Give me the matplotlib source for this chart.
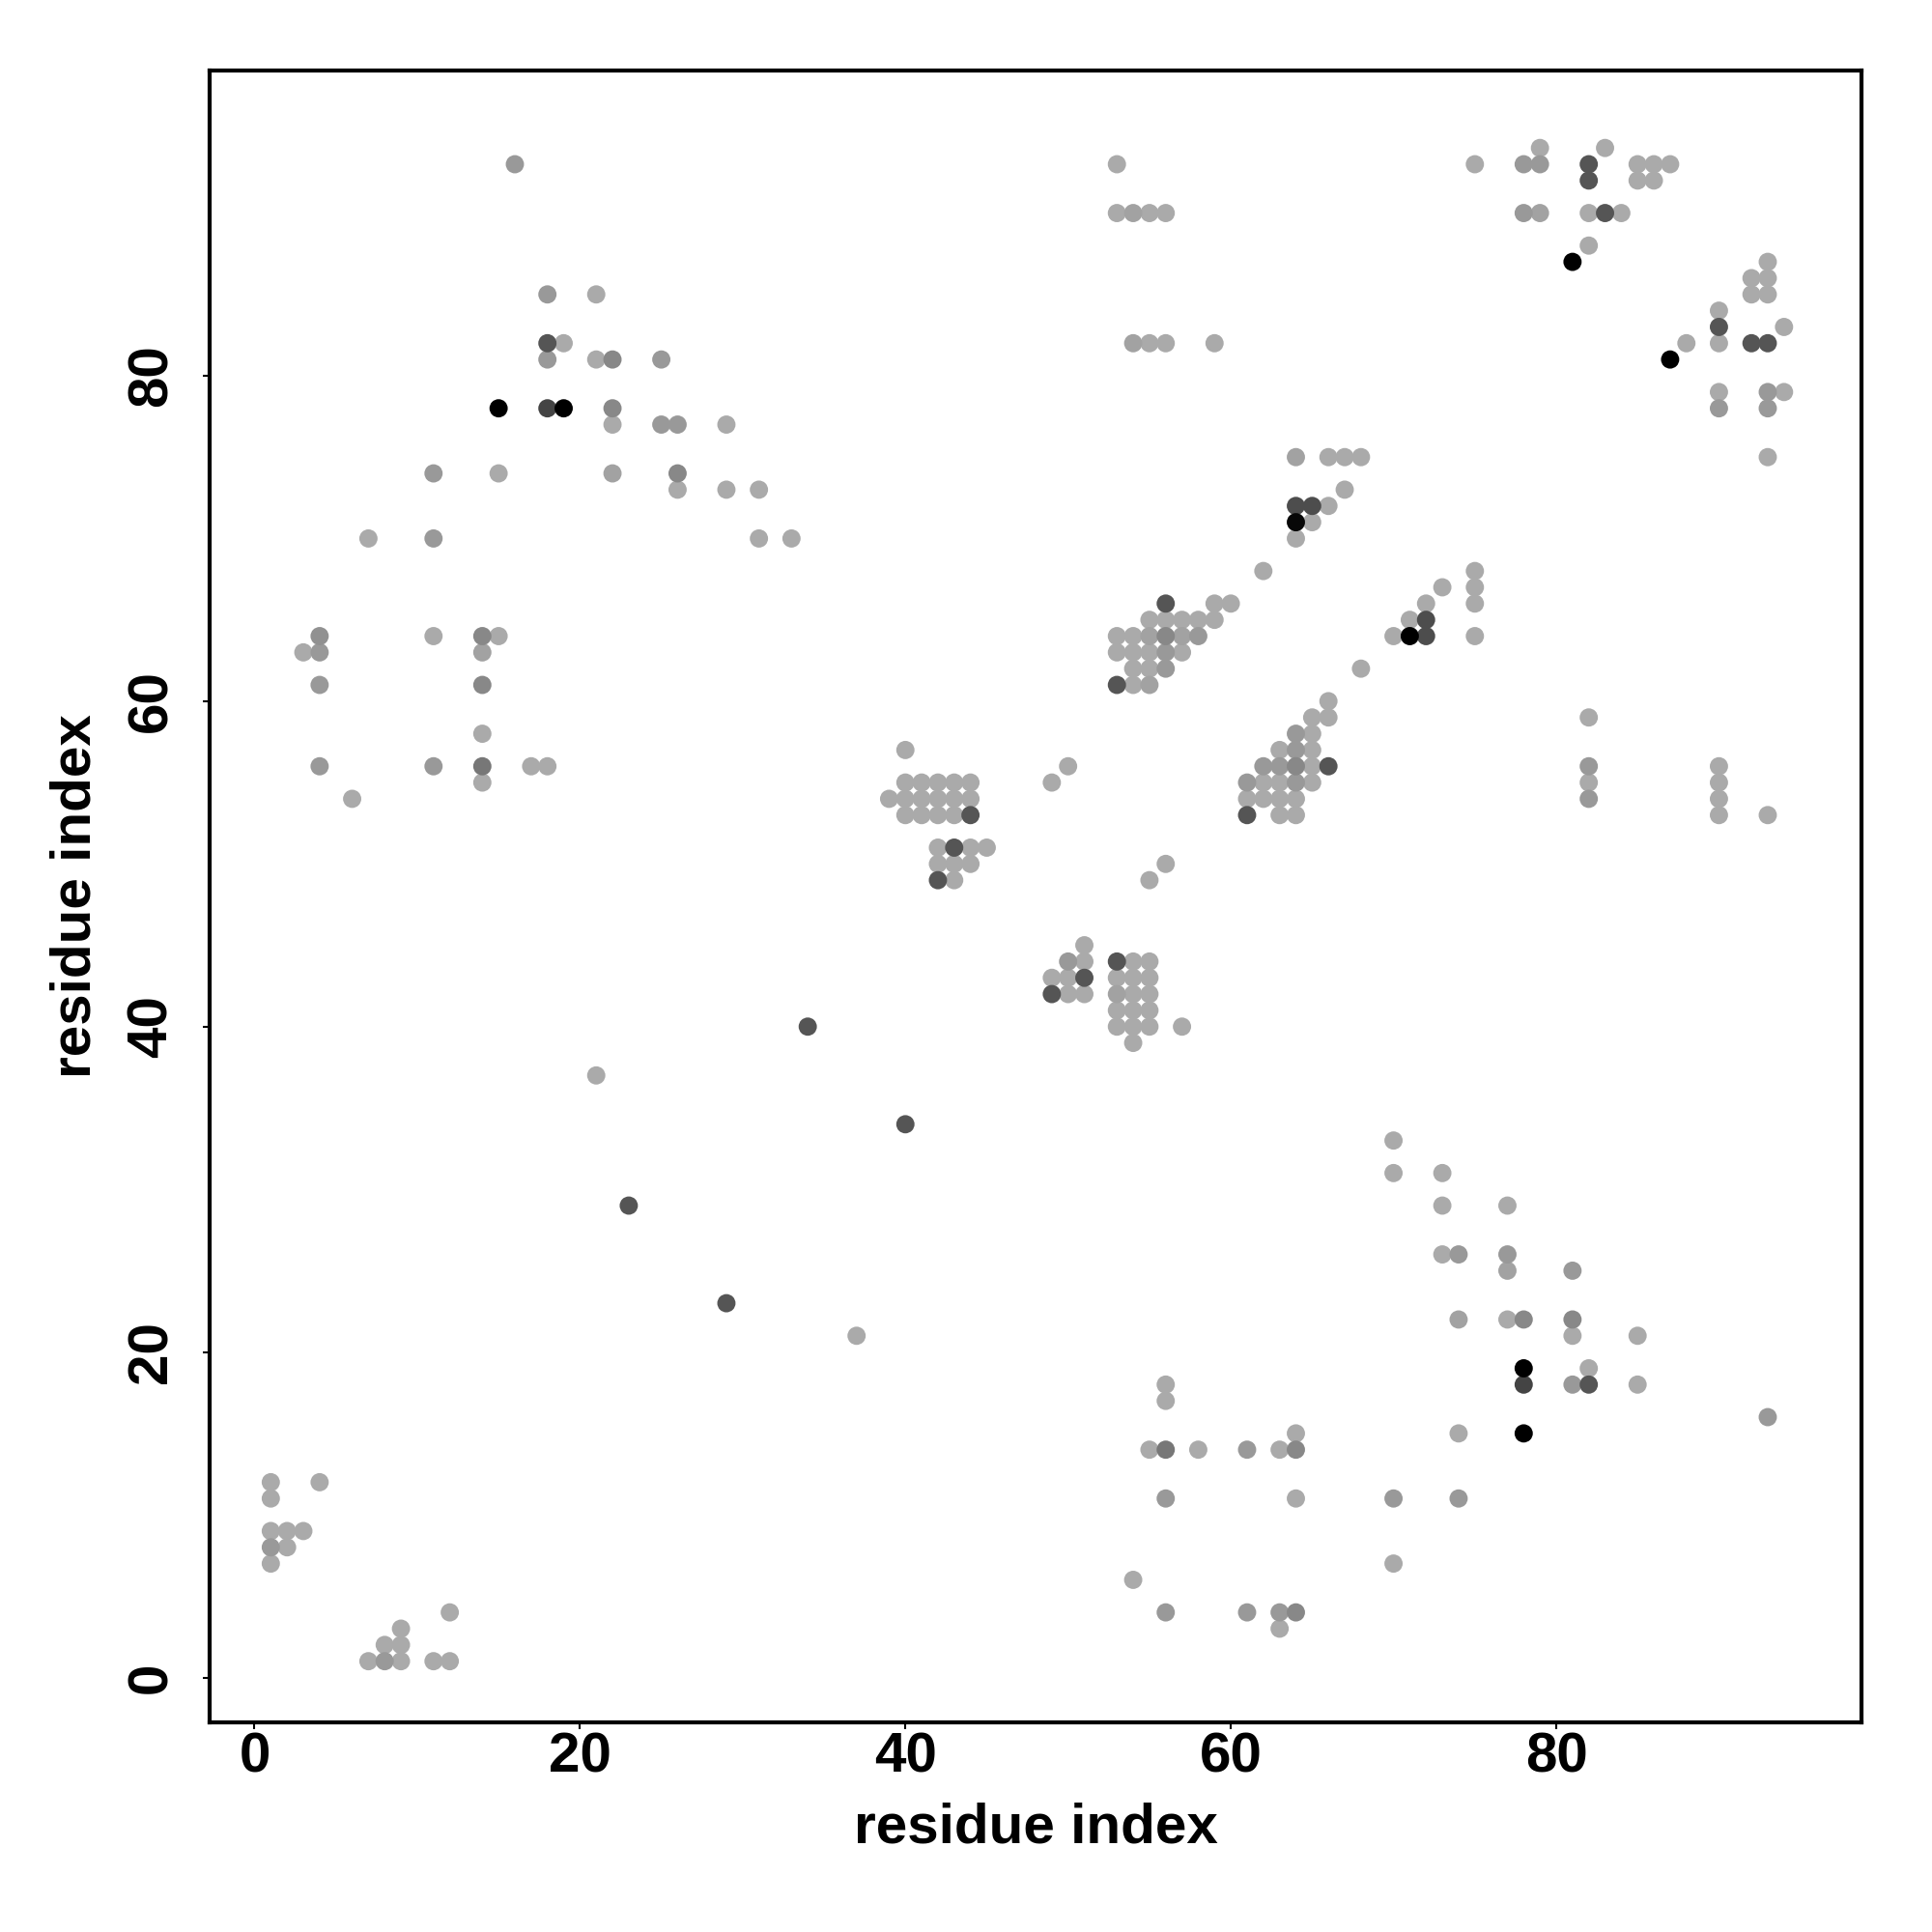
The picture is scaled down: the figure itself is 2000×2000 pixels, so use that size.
#!/usr/bin/env python3
# -*- coding: utf-8 -*-
"""
Contact map: predicted residue-residue contacts, shaded by score
"""
import matplotlib
matplotlib.use("Agg")
import matplotlib.pyplot as plt
from matplotlib.colors import LinearSegmentedColormap

# (residue i, residue j, score) -- score 0 = weakest (light grey), 1 = strongest (black)
top_left = [
    (16, 93, .1), (18, 85, .1), (21, 85, 0), (18, 82, .5), (19, 82, 0), (18, 81, .1),
    (21, 81, 0), (22, 81, .2), (25, 81, .1), (15, 78, 1), (18, 78, .6), (19, 78, 1),
    (22, 78, .2), (22, 77, 0), (25, 77, .1), (26, 77, .1), (29, 77, 0), (11, 74, .1),
    (15, 74, 0), (22, 74, .05), (26, 74, .2), (26, 73, 0), (29, 73, 0), (31, 73, 0),
    (7, 70, 0), (11, 70, .1), (31, 70, 0), (33, 70, 0),
]
left_mid = [
    (4, 64, .15), (11, 64, 0), (14, 64, .2), (15, 64, 0), (3, 63, 0), (4, 63, .1),
    (14, 63, .05), (4, 61, .1), (14, 61, .2), (14, 58, 0), (4, 56, .1), (11, 56, .1),
    (14, 56, .3), (17, 56, 0), (18, 56, 0), (14, 55, 0), (6, 54, 0),
]
scattered = [
    (21, 37, 0), (34, 40, .5), (40, 34, .5), (23, 29, .5), (29, 23, .5), (37, 21, 0),
]
block_40_55 = [
    (40, 57, 0), (40, 55, 0), (41, 55, 0), (42, 55, 0), (43, 55, 0), (44, 55, 0),
    (39, 54, 0), (40, 54, 0), (41, 54, 0), (42, 54, 0), (43, 54, 0), (44, 54, 0),
    (40, 53, 0), (41, 53, 0), (42, 53, 0), (43, 53, 0), (44, 53, .5),
    (42, 51, 0), (43, 51, .5), (44, 51, 0), (45, 51, 0), (42, 50, 0), (43, 50, 0),
    (44, 50, 0), (42, 49, .5), (43, 49, 0), (49, 55, 0), (50, 56, 0), (55, 49, 0),
    (56, 50, 0),
]
block_53_42 = [
    (51, 45, 0), (50, 44, .1), (51, 44, 0), (53, 44, .5), (54, 44, 0), (55, 44, 0),
    (49, 43, 0), (50, 43, 0), (51, 43, .5), (53, 43, 0), (54, 43, 0), (55, 43, 0),
    (49, 42, .5), (50, 42, 0), (51, 42, 0), (53, 42, .05), (54, 42, 0), (55, 42, 0),
    (53, 41, 0), (54, 41, 0), (55, 41, 0), (53, 40, 0), (54, 40, 0), (55, 40, 0),
    (57, 40, 0), (54, 39, 0),
]
top_mid = [
    (53, 93, 0), (53, 90, 0), (54, 90, .05), (55, 90, 0), (56, 90, 0), (54, 82, .05),
    (55, 82, 0), (56, 82, 0), (59, 82, 0),
]
block_55_63 = [
    (56, 66, .5), (59, 66, 0), (60, 66, 0), (55, 65, 0), (56, 65, 0), (57, 65, 0),
    (58, 65, 0), (59, 65, 0), (53, 64, 0), (54, 64, 0), (55, 64, .05), (56, 64, .2),
    (57, 64, .05), (58, 64, .1), (53, 63, 0), (54, 63, 0), (55, 63, 0), (56, 63, .1),
    (57, 63, 0), (54, 62, 0), (55, 62, 0), (56, 62, .1), (53, 61, .5), (54, 61, 0),
    (55, 61, .05),
]
block_65_72 = [
    (62, 68, 0), (64, 75, .05), (66, 75, 0), (67, 75, 0), (68, 75, 0), (67, 73, 0),
    (64, 72, .55), (65, 72, .55), (66, 72, 0), (64, 71, .95), (65, 71, 0), (64, 70, 0),
    (68, 62, 0),
]
block_63_56 = [
    (66, 60, 0), (65, 59, 0), (66, 59, 0), (64, 58, .1), (65, 58, 0), (63, 57, 0),
    (64, 57, .1), (65, 57, 0), (62, 56, .1), (63, 56, .1), (64, 56, .2), (65, 56, 0),
    (66, 56, .5), (61, 55, .1), (62, 55, 0), (63, 55, 0), (64, 55, .1), (65, 55, 0),
    (61, 54, 0), (62, 54, 0), (63, 54, 0), (64, 54, 0), (61, 53, .5), (63, 53, 0),
    (64, 53, 0),
]
block_72_65 = [
    (70, 64, 0), (71, 64, 1), (72, 64, .55), (71, 65, 0), (72, 65, .55), (72, 66, 0),
    (73, 67, 0), (75, 68, 0), (75, 67, 0), (75, 66, 0), (75, 64, 0),
]
top_right = [
    (75, 93, 0), (78, 93, .1), (79, 93, .1), (79, 94, 0), (82, 93, .5), (82, 92, .5),
    (83, 94, 0), (85, 93, 0), (86, 93, 0), (87, 93, 0), (85, 92, 0), (86, 92, 0),
    (78, 90, .1), (79, 90, .05), (82, 90, 0), (83, 90, .5), (84, 90, 0), (82, 88, 0),
    (81, 87, 1),
]
right_upper = [
    (93, 87, 0), (92, 86, 0), (93, 86, 0), (92, 85, 0), (93, 85, 0), (90, 84, 0),
    (90, 83, .5), (94, 83, 0), (88, 82, 0), (90, 82, 0), (92, 82, .5), (93, 82, .5),
    (87, 81, 1), (90, 79, 0), (93, 79, .1), (94, 79, 0), (90, 78, .1), (93, 78, .1),
    (93, 75, 0),
]
right_mid = [
    (82, 59, 0), (82, 56, .1), (82, 55, 0), (82, 54, .1), (90, 56, 0), (90, 55, 0),
    (90, 54, 0), (90, 53, 0), (93, 53, 0),
]
bottom_right = [
    (70, 33, 0), (70, 31, 0), (73, 31, 0), (73, 29, 0), (77, 29, 0), (73, 26, 0),
    (74, 26, .1), (77, 26, .1), (77, 25, .05), (81, 25, .1), (74, 22, .05), (77, 22, 0),
    (78, 22, .2), (81, 22, .2), (81, 21, 0), (85, 21, 0), (78, 19, 1), (82, 19, 0),
    (78, 18, .6), (81, 18, .1), (82, 18, .5), (85, 18, 0), (93, 16, .1), (78, 15, 1),
    (74, 15, 0), (74, 11, .1), (70, 11, .1), (70, 7, 0),
]
bottom_mid = [
    (56, 18, 0), (56, 17, 0), (64, 15, 0), (55, 14, 0), (56, 14, .3), (58, 14, 0),
    (61, 14, .1), (63, 14, 0), (64, 14, .2), (56, 11, .1), (64, 11, 0), (54, 6, 0),
    (56, 4, .1), (61, 4, .1), (63, 4, .1), (64, 4, .2), (63, 3, 0),
]
bottom_left = [
    (1, 12, 0), (4, 12, 0), (1, 11, 0), (1, 9, 0), (2, 9, 0), (3, 9, 0), (1, 8, .1),
    (2, 8, 0), (1, 7, 0), (12, 4, 0), (9, 3, 0), (8, 2, 0), (9, 2, 0), (7, 1, 0),
    (8, 1, .1), (9, 1, 0), (11, 1, 0), (12, 1, 0),
]

ticks = [0, 20, 40, 60, 80]
axis_label = "residue index"


def main():
    contacts = (top_left + left_mid + scattered + block_40_55 + block_53_42 + top_mid
                + block_55_63 + block_65_72 + block_63_56 + block_72_65 + top_right
                + right_upper + right_mid + bottom_right + bottom_mid + bottom_left)
    # weakest first so the dark ones end up on top
    contacts = sorted(contacts, key=lambda c: c[2])
    xs = [c[0] for c in contacts]
    ys = [c[1] for c in contacts]
    sc = [c[2] for c in contacts]

    plt.rcParams['font.family'] = ['Liberation Sans', 'DejaVu Sans']
    plt.rcParams['font.weight'] = 'bold'

    grey = LinearSegmentedColormap.from_list("grey", ["#aaaaaa", "#000000"])

    fig = plt.figure(figsize=(20, 20), dpi=100)
    ax = fig.add_axes([0.1085, 0.1085, 0.855, 0.855])
    ax.scatter(xs, ys, c=sc, cmap=grey, vmin=0, vmax=1, s=185, linewidths=0)

    ax.set_xlim(-2.76, 98.76)
    ax.set_ylim(-2.76, 98.76)
    ax.set_xticks(ticks)
    ax.set_yticks(ticks)
    for side in ax.spines.values():
        side.set_linewidth(3)

    ax.tick_params(axis='both', direction='out', length=5, width=1.5, labelsize=42)
    ax.tick_params(axis='x', pad=2)
    ax.tick_params(axis='y', pad=38)
    for t in ax.get_yticklabels():
        t.set_rotation(90)
        t.set_ha('center')
        t.set_va('center')

    ax.set_xlabel(axis_label, fontsize=42, fontweight='bold')
    ax.set_ylabel(axis_label, fontsize=42, fontweight='bold')
    ax.xaxis.label.set_va('center')
    ax.yaxis.label.set_va('center')
    ax.xaxis.set_label_coords(0.5, -0.064)
    ax.yaxis.set_label_coords(-0.081, 0.5)

    plt.savefig('out.png', dpi=100)


if __name__ == "__main__":
    main()
